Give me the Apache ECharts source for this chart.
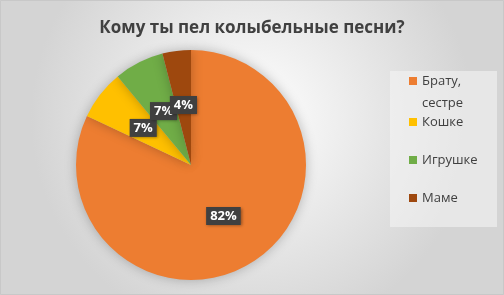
<!DOCTYPE html>
<html>
<head>
<meta charset="utf-8">
<script src="https://cdn.jsdelivr.net/npm/echarts@6/dist/echarts.min.js"></script>
<style>
  html, body { margin: 0; padding: 0; }
  #chart { width: 504px; height: 295px; }
</style>
</head>
<body>
<div id="chart"></div>
<script>
// данные диаграммы
const categories = ['Брату, сестре', 'Кошке', 'Игрушке', 'Маме'];
const values = [82, 7, 7, 4];
const colors = ['#ED7D31', '#FFC000', '#70AD47', '#9E480E'];

const chart = echarts.init(document.getElementById('chart'));

// позиции элементов легенды
const legendTops = [48, 111, 149, 187];

const legends = categories.map((name, i) => ({
  data: [name],
  left: 409,
  top: legendTops[i],
  padding: 0,
  itemWidth: 8,
  itemHeight: 8,
  itemGap: 0,
  icon: 'rect',
  selectedMode: false,
  // пустая строка сверху, чтобы первая строка подписи стояла на уровне значка
  formatter: n => n.indexOf(', ') >= 0 ? '\u00a0\n' + n.replace(', ', ',\n') : n,
  textStyle: {
    fontFamily: 'Open Sans',
    fontSize: 13,
    color: '#404040',
    lineHeight: 22
  }
}));

const option = {
  backgroundColor: {
    type: 'radial', x: 0.5, y: 0.4, r: 0.75,
    colorStops: [
      { offset: 0, color: '#ffffff' },
      { offset: 1, color: '#d4d4d4' }
    ]
  },
  color: colors,
  title: {
    text: 'Кому ты пел колыбельные песни?',
    left: 'center',
    top: 15,
    textStyle: { fontFamily: 'Open Sans', fontSize: 17, fontWeight: 'bold', color: '#404040' }
  },
  graphic: [
    {
      type: 'rect',
      shape: { x: 0.5, y: 0.5, width: 503, height: 294 },
      style: { fill: 'none', stroke: '#c8c8c8', lineWidth: 1 },
      silent: true
    },
    {
      type: 'rect',
      shape: { x: 390, y: 71, width: 107, height: 156 },
      style: { fill: 'rgba(245,245,245,0.55)' },
      silent: true,
      z: -1
    }
  ],
  legend: legends,
  series: [{
    type: 'pie',
    center: [191, 165],
    radius: 115,
    startAngle: 90,
    clockwise: true,
    animation: false,
    itemStyle: { shadowBlur: 12, shadowColor: 'rgba(0,0,0,0.25)' },
    labelLayout: { hideOverlap: false },
    label: {
      position: 'inside',
      formatter: '{c}%',
      color: '#ffffff',
      fontFamily: 'Open Sans',
      fontWeight: 'bold',
      fontSize: 13,
      backgroundColor: '#404040',
      padding: [3, 4, 2, 4],
      shadowBlur: 3,
      shadowColor: 'rgba(0,0,0,0.4)',
      shadowOffsetX: 1,
      shadowOffsetY: 1
    },
    labelLine: { show: false },
    data: categories.map((name, i) => ({ name: name, value: values[i] }))
  }]
};

chart.setOption(option);
</script>
</body>
</html>
